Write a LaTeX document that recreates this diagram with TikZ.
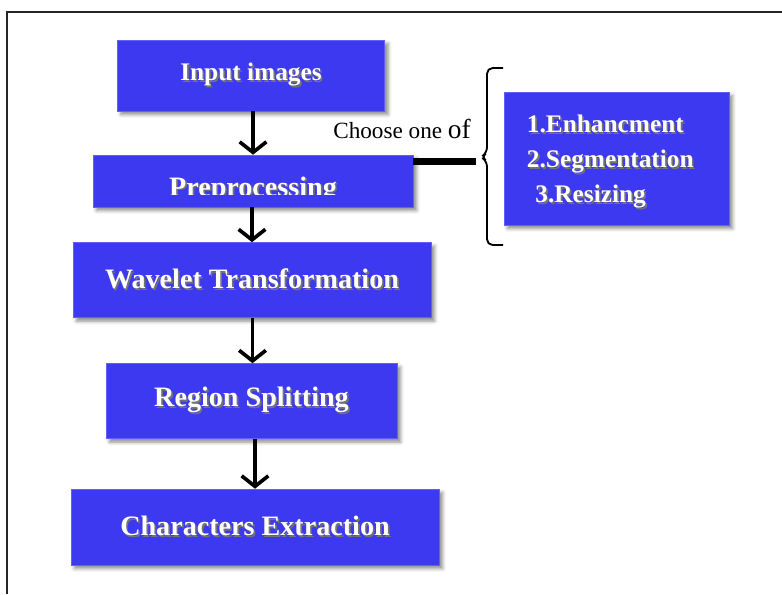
\documentclass[tikz,border=0pt]{standalone}
\usepackage{fontspec}
\setmainfont{Liberation Serif}
\usetikzlibrary{arrows.meta,shadows.blur}

\definecolor{boxblue}{RGB}{60,57,240}
% white text with a small dark shadow, as in the boxes
\newcommand{\shadowtext}[1]{\leavevmode\rlap{\kern1.2pt\raisebox{-1.2pt}{\color{black!55}#1}}#1}

\begin{document}
\begin{tikzpicture}[x=0.025cm,y=-0.025cm,
    stagebox/.style={draw=boxblue!80!white, line width=0.4pt, fill=boxblue, text=white,
        font=\bfseries\fontsize{20}{24}\selectfont, inner sep=0pt,
        blur shadow={shadow xshift=2.5pt, shadow yshift=-2.5pt, shadow blur radius=2.5pt, shadow opacity=45}},
    flow/.style={line width=2.6pt, -{Straight Barb[length=7.5pt,width=19pt]}},
    link/.style={line width=5.5pt},
    brace/.style={line width=1.3pt, rounded corners=4pt},
    frame/.style={line width=1.4pt, black!85}]
    \useasboundingbox (0,0) rectangle (782,594);

    % outer frame (cut at the right and at the bottom)
    \draw[frame] (7,594) |- (782,12);

    % main chain of stages
    \node[stagebox, minimum width=6.675cm, minimum height=1.775cm,
        font=\bfseries\fontsize{18}{22}\selectfont] (inp) at (251,75.5) {\shadowtext{Input images}};
    \node[stagebox, minimum width=8cm, minimum height=1.3cm] (pre) at (253,181) {};
    \node[stagebox, minimum width=8.95cm, minimum height=1.875cm] (wav) at (252,280) {\shadowtext{Wavelet Transformation}};
    \node[stagebox, minimum width=7.275cm, minimum height=1.875cm] (reg) at (251.5,401) {\shadowtext{Region Splitting}};
    \node[stagebox, minimum width=9.2cm, minimum height=1.9cm] (chr) at (255,527) {\shadowtext{Characters Extraction}};

    % the label of the preprocessing box is cut at its baseline
    \begin{scope}
        \clip (93,155) rectangle (413,194.5);
        \node[text=white, font=\bfseries\fontsize{20}{24}\selectfont, anchor=base, inner sep=0pt]
            (pretext) at (253,196) {\shadowtext{Preprocessing}};
    \end{scope}

    % options box
    \node[stagebox, minimum width=5.625cm, minimum height=3.325cm, text width=4.475cm,
        inner xsep=0.575cm, align=left, font=\bfseries\fontsize{18}{25}\selectfont]
        (opts) at (616.5,158.5) {\rule{0pt}{18pt}\shadowtext{1.Enhancment}\\\shadowtext{2.Segmentation}\\\shadowtext{\ 3.Resizing}};

    % arrows between the stages
    \draw[flow] (inp.south -| pre) -- (pre.north);
    \draw[flow] (pre.south -| wav) -- (wav.north);
    \draw[flow] (wav.south -| reg) ++(1,0) coordinate (w3) -- (w3 |- reg.north);
    \draw[flow] (reg.south -| chr) -- (chr.north);

    % brace in front of the options
    \coordinate (tip) at (481,157);
    \draw[brace] (503,68) -- (487,68) -- (487,153) -- (tip) -- (487,161) -- (487,245) -- (503,245);
    \draw[link] (pre.east |- 0,161.5) -- (476,161.5);
    \node[anchor=base west, inner sep=0pt, font=\fontsize{16.5}{19}\selectfont] (choose) at (333,138)
        {Choose one {\fontsize{19.5}{20}\selectfont of}};
\end{tikzpicture}
\end{document}
